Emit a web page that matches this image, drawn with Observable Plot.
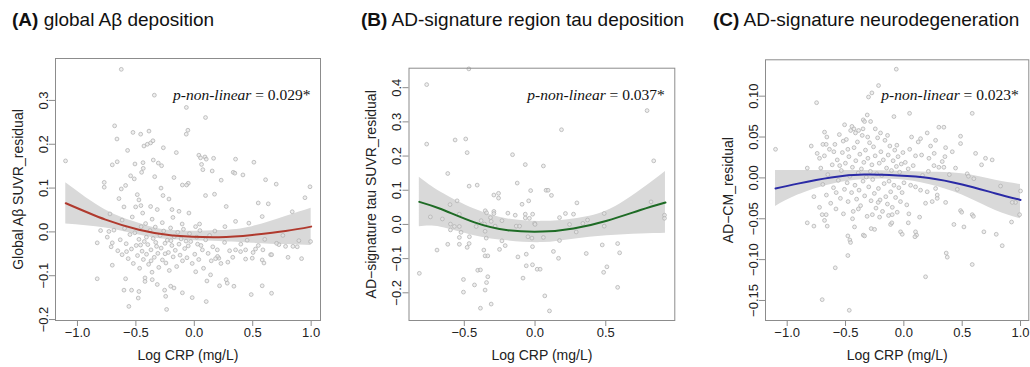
<!DOCTYPE html>
<html><head><meta charset="utf-8">
<script src="https://cdn.jsdelivr.net/npm/d3@7"></script>
<script src="https://cdn.jsdelivr.net/npm/@observablehq/plot@0.6"></script>
<style>
body{margin:0;background:#fff;}
#wrap{position:relative;width:1030px;height:367px;overflow:hidden;font-family:"Liberation Sans",Arial,sans-serif;background:#fff;}
.title{position:absolute;top:9px;font-size:19px;line-height:normal;color:#111;white-space:nowrap;}
.title b{font-weight:bold;}
.panel{position:absolute;top:40px;}
</style></head><body><div id="wrap">
<div class="title" style="left:12px"><b>(A)</b> global Aβ deposition</div>
<div class="title" style="left:361px"><b>(B)</b> AD-signature region tau deposition</div>
<div class="title" style="left:713px"><b>(C)</b> AD-signature neurodegeneration</div>
</div>
<script>
// ---------- Panel A data ----------
const pointsA = [
[-0.625,0.371],[-0.342,0.312],[-1.102,0.162],[-0.682,0.242],[-0.662,0.212],[-0.525,0.227],[-0.459,0.223],[-0.388,0.230],
[-0.431,0.196],[-0.402,0.200],[-0.374,0.203],[-0.354,0.208],[-0.571,0.186],[-0.265,0.192],[-0.660,0.160],[-0.702,0.153],
[-0.508,0.155],[-0.439,0.158],[-0.351,0.164],[-0.308,0.157],[-0.280,0.151],[-0.154,0.181],[-0.068,0.284],[-0.771,0.113],
[-0.771,0.102],[-0.588,0.106],[-0.625,0.098],[-0.545,0.128],[-0.514,0.121],[-0.451,0.136],[-0.437,0.145],[-0.339,0.126],
[-0.285,0.100],[-0.174,0.124],[-0.102,0.107],[-0.488,0.085],[-0.474,0.073],[-0.457,0.060],[-0.645,0.076],[-0.602,0.057],
[-0.502,0.057],[-0.374,0.058],[-0.317,0.051],[-0.268,0.083],[-0.217,0.075],[-0.191,0.051],[-0.131,0.047],[-0.802,0.003],
[-0.731,0.001],[-0.831,-0.025],[-0.702,-0.025],[-0.702,-0.076],[-0.831,-0.107],[-0.588,-0.107],[-0.602,-0.133],[-0.537,-0.133],
[-0.474,-0.136],[-0.422,-0.105],[-0.422,-0.113],[-0.360,-0.109],[-0.317,-0.120],[-0.254,-0.133],[-0.245,-0.147],[-0.560,-0.170],
[-0.480,-0.151],[-0.237,-0.177],[-0.202,-0.124],[-0.174,-0.128],[-0.102,-0.139],
[-0.745,-0.012],[-0.712,-0.034],[-0.688,0.004],[-0.655,-0.043],[-0.634,-0.018],[-0.618,-0.052],[-0.597,0.008],[-0.583,-0.027],
[-0.566,-0.061],[-0.551,-0.006],[-0.538,-0.039],[-0.522,-0.072],[-0.509,-0.002],[-0.497,-0.031],[-0.486,-0.054],[-0.474,-0.017],
[-0.468,-0.083],[-0.455,0.012],[-0.447,-0.044],[-0.436,-0.063],[-0.428,-0.022],[-0.417,0.019],[-0.409,-0.051],[-0.398,-0.029],
[-0.391,-0.074],[-0.379,0.003],[-0.371,-0.041],[-0.362,-0.092],[-0.352,-0.015],[-0.343,-0.058],[-0.334,0.011],[-0.323,-0.033],
[-0.312,-0.049],[-0.304,-0.081],[-0.293,-0.008],[-0.284,-0.037],[-0.273,-0.064],[-0.262,0.002],[-0.251,-0.026],[-0.243,-0.071],
[-0.231,-0.019],[-0.222,-0.047],[-0.214,-0.088],[-0.203,0.009],[-0.192,-0.031],[-0.181,-0.057],[-0.172,-0.011],[-0.163,-0.042],
[-0.151,-0.079],[-0.142,-0.001],[-0.131,-0.028],[-0.122,-0.053],[-0.113,-0.016],[-0.101,-0.066],[-0.093,0.006],[-0.082,-0.038],
[-0.071,-0.021],[-0.063,-0.059],[-0.052,-0.032],[-0.041,-0.004],[-0.722,0.041],[-0.618,0.027],[-0.531,0.034],[-0.442,0.043],
[-0.361,0.029],[-0.274,0.021],[-0.183,0.033],[-0.104,0.018],[-0.580,-0.045],[-0.410,-0.012],[-0.330,-0.024],[-0.250,-0.050],
[-0.460,-0.030],[-0.370,-0.066],[-0.200,-0.020],
[0.096,0.261],[-0.055,0.232],[-0.069,0.223],[0.039,0.175],[0.053,0.169],[0.091,0.171],[0.102,0.166],[0.165,0.168],
[0.062,0.154],[0.073,0.142],[0.153,0.139],[0.353,0.166],[0.510,0.159],[0.333,0.136],[0.347,0.134],[0.416,0.130],
[0.610,0.119],[0.701,0.109],[0.990,0.103],[0.947,0.078],[-0.052,0.111],[-0.066,0.107],[0.230,0.118],[0.096,0.083],
[0.173,0.086],[0.273,0.058],[0.547,0.066],[0.633,0.064],[0.838,0.046],[0.581,0.035],[-0.046,0.043],[0.045,0.018],
[0.011,0.012],[0.353,0.024],[0.467,0.020],[0.262,0.012],[0.995,-0.022],[0.895,-0.020],[0.781,-0.033],[0.844,-0.033],
[0.724,-0.029],[0.653,-0.052],[0.587,-0.041],[0.524,-0.039],[0.439,-0.041],[0.396,-0.045],[0.353,-0.041],[0.918,-0.061],
[0.287,-0.069],[0.210,-0.060],[0.199,-0.056],[0.182,-0.061],[0.581,-0.064],[0.596,-0.071],[0.439,-0.062],[0.496,-0.060],
[0.273,-0.109],[0.282,-0.117],[0.339,-0.124],[0.216,-0.123],[0.581,-0.123],[0.661,-0.140],[0.487,-0.143],[0.102,-0.159],
[-0.018,-0.150],
[-0.031,-0.022],[0.004,-0.051],[0.021,-0.012],[0.038,-0.063],[0.057,-0.031],[0.079,-0.083],[0.097,-0.018],[0.118,-0.049],
[0.139,-0.098],[0.158,-0.034],[0.176,0.002],[0.012,-0.091],[0.048,0.003],[-0.018,-0.072],[0.108,-0.112],[0.131,-0.008],
[0.197,-0.041],[0.228,-0.072],[0.259,-0.024],[0.302,-0.043],[0.329,-0.058],[0.398,-0.028],[0.452,-0.019],[0.503,-0.047],
[0.548,-0.031],[0.603,-0.017],[0.662,-0.052],[0.704,-0.026],[0.758,-0.008],[0.802,-0.058],[0.881,-0.034],[0.069,-0.041],
[0.145,-0.066],[0.028,-0.028]
];
const fitXA = [-1.1, -0.76, -0.474, -0.188, 0.21, 0.496, 0.781, 1.0];
const fitA  = [0.0654, 0.028, 0.005, -0.008, -0.012, -0.007, 0.002, 0.012];
const hiA   = [0.112, 0.050, 0.020, 0.003, 0.003, 0.012, 0.035, 0.054];
const loA   = [0.018, 0.009, -0.007, -0.018, -0.022, -0.026, -0.029, -0.031];

// ---------- Panel B data ----------
const pointsB = [
[-0.468,0.455],[-0.766,0.409],[-0.766,0.235],[-0.565,0.247],[-0.490,0.250],[-0.480,0.210],[-0.159,0.204],[-0.069,0.175],
[-0.617,0.149],[-0.466,0.112],[-0.409,0.115],[-0.126,0.121],[-0.031,0.099],[-0.291,0.086],[-0.258,0.091],[-0.258,0.077],
[-0.551,0.069],[-0.092,0.059],[-0.045,0.069],[-0.601,0.058],[-0.740,0.022],[-0.655,0.016],[-0.535,0.030],[-0.352,0.040],
[-0.343,0.034],[-0.291,0.038],[-0.291,0.032],[-0.315,0.020],[-0.310,0.009],[-0.282,-0.005],[-0.192,0.033],[-0.140,0.027],
[-0.069,0.030],[-0.069,0.019],[-0.017,0.030],[-0.003,0.003],[-0.598,0.001],[-0.598,-0.016],[-0.570,-0.006],[-0.535,-0.006],
[-0.416,-0.006],[-0.381,0.011],[-0.357,0.001],[-0.523,-0.023],[-0.535,-0.038],[-0.617,-0.058],[-0.535,-0.058],[-0.464,-0.036],
[-0.466,-0.056],[-0.480,-0.067],[-0.353,-0.020],[-0.345,-0.040],[-0.234,0.011],[-0.234,-0.048],[-0.211,-0.062],[-0.693,-0.075],
[-0.362,-0.075],[-0.353,-0.092],[-0.334,-0.092],[-0.251,-0.073],[-0.133,-0.005],[-0.109,-0.005],[-0.050,-0.036],[-0.022,-0.040],
[-0.121,-0.095],[-0.062,-0.087],[-0.062,-0.121],[-0.018,-0.065],[-0.018,-0.118],[0.015,-0.131],[-0.405,-0.134],[-0.386,-0.133],
[-0.334,-0.153],[-0.343,-0.170],[-0.428,-0.177],[-0.506,-0.161],[-0.353,-0.192],[-0.506,-0.198],[-0.310,-0.233],[-0.386,-0.245],
[-0.085,-0.157],[-0.818,-0.143],
[0.792,0.333],[0.187,0.277],[0.839,0.186],[0.059,0.171],[0.078,0.100],[0.092,0.100],[0.116,0.085],[0.296,0.063],
[0.820,0.066],[0.215,0.032],[0.272,0.030],[0.173,0.020],[0.489,0.032],[0.489,-0.005],[0.244,0.000],[0.291,-0.022],
[0.338,0.003],[0.371,0.013],[0.915,0.027],[0.915,0.018],[0.059,-0.038],[0.173,-0.047],[0.130,-0.079],[0.166,-0.099],
[0.362,-0.085],[0.475,-0.060],[0.584,-0.056],[0.598,-0.083],[0.485,-0.140],[0.508,-0.124],[0.584,-0.184],[0.069,-0.209],
[0.102,-0.253],[0.036,-0.131],[0.000,0.000],[-0.040,0.018]
];
const fitXB = [-0.818, -0.665, -0.428, -0.192, 0.054, 0.272, 0.508, 0.745, 0.922];
const fitB  = [0.066, 0.045, 0.006, -0.017, -0.021, -0.012, 0.011, 0.042, 0.064];
const hiB   = [0.138, 0.094, 0.045, 0.016, 0.009, 0.016, 0.040, 0.100, 0.155];
const loB   = [-0.007, -0.008, -0.033, -0.048, -0.053, -0.043, -0.033, -0.028, -0.026];

// ---------- Panel C data ----------
const pointsC = [
[-1.100,0.035],[-0.748,0.092],[-0.217,0.113],[-0.274,0.104],[-0.303,0.099],[-0.065,0.133],[-0.085,0.075],[-0.314,0.077],
[-0.348,0.071],[-0.337,0.069],[-0.285,0.069],[-0.508,0.065],[-0.445,0.063],[-0.428,0.060],[-0.388,0.058],[-0.680,0.056],
[-0.694,0.041],[-0.666,0.041],[-0.794,0.039],[-0.743,0.030],[-0.723,0.024],[-0.828,0.012],[-0.771,-0.023],[-0.828,-0.055],
[-0.771,-0.059],[-0.723,-0.036],[-0.666,-0.045],[-0.680,-0.052],[-0.657,-0.059],[-0.588,-0.110],[-0.700,-0.149],[-0.468,-0.162],
[-0.480,-0.095],[-0.480,-0.071],[-0.463,-0.076],[-0.457,-0.079],[-0.423,-0.060],[-0.348,-0.070],[-0.337,-0.071],[-0.280,-0.062],
[-0.251,-0.063],[-0.114,-0.057],[-0.103,-0.055],[-0.208,-0.048],[-0.131,-0.046],
[-0.712,0.012],[-0.695,-0.008],[-0.681,0.027],[-0.664,-0.021],[-0.652,0.004],[-0.638,0.035],[-0.627,-0.031],[-0.614,0.016],
[-0.603,-0.012],[-0.591,0.041],[-0.582,-0.038],[-0.571,0.022],[-0.562,-0.003],[-0.553,0.053],[-0.544,-0.025],[-0.536,0.009],
[-0.527,0.031],[-0.518,-0.044],[-0.509,-0.014],[-0.501,0.018],[-0.493,0.047],[-0.486,-0.006],[-0.478,-0.029],[-0.471,0.026],
[-0.463,0.002],[-0.456,0.058],[-0.448,-0.018],[-0.441,0.013],[-0.434,-0.041],[-0.427,0.037],[-0.419,-0.009],[-0.412,0.021],
[-0.405,-0.026],[-0.398,0.044],[-0.391,0.006],[-0.384,-0.015],[-0.377,0.029],[-0.371,-0.034],[-0.364,0.011],[-0.357,0.052],
[-0.350,-0.004],[-0.343,0.019],[-0.336,-0.022],[-0.329,0.034],[-0.322,0.001],[-0.315,-0.047],[-0.308,0.024],[-0.301,-0.011],
[-0.294,0.043],[-0.287,0.008],[-0.281,-0.028],[-0.274,0.016],[-0.267,-0.002],[-0.260,0.038],[-0.253,-0.019],[-0.246,0.027],
[-0.239,-0.037],[-0.232,0.005],[-0.225,0.049],[-0.218,-0.013],[-0.211,0.018],[-0.204,-0.027],[-0.197,0.032],[-0.190,0.003],
[-0.183,-0.041],[-0.176,0.022],[-0.169,-0.007],[-0.162,0.046],[-0.155,-0.023],[-0.148,0.012],[-0.141,-0.032],[-0.134,0.028],
[-0.127,-0.004],[-0.120,0.039],[-0.113,-0.017],[-0.106,0.009],[-0.099,-0.036],[-0.092,0.021],[-0.085,-0.009],[-0.078,0.034],
[-0.071,-0.024],[-0.064,0.014],[-0.057,-0.042],[-0.050,0.026],[-0.043,-0.012],[-0.036,0.007],[-0.029,-0.029],[-0.022,0.017],
[-0.015,-0.018],[-0.008,0.031],[0.001,-0.006],[0.012,0.019],[0.025,-0.033],[0.037,0.011],[-0.600,0.032],[-0.520,0.045],
[-0.440,-0.050],[-0.350,0.060],[-0.270,-0.045],[-0.200,0.055],[-0.660,0.050],[-0.580,-0.018],[-0.480,0.035],[-0.390,-0.038],
[-0.310,0.050],[-0.220,-0.030],[-0.140,0.052],[-0.060,0.040],[-0.700,-0.045],[-0.550,0.015],[-0.415,0.055],[-0.245,0.060],
[-0.100,-0.045],
[0.586,0.079],[0.049,0.079],[0.300,0.062],[0.343,0.062],[0.486,0.051],[0.486,0.042],[0.615,0.030],[0.700,0.024],
[0.757,0.022],[0.666,0.016],[0.066,0.050],[0.123,0.044],[0.143,0.048],[0.229,0.039],[0.272,0.046],[0.358,0.037],
[0.415,0.032],[0.100,0.027],[0.152,0.028],[0.215,0.024],[0.352,0.026],[0.329,0.020],[0.258,0.015],[0.300,0.013],
[0.343,0.013],[0.443,0.012],[0.543,0.005],[0.553,0.002],[0.600,-0.001],[0.829,-0.010],[1.000,-0.016],[0.957,-0.030],
[0.929,-0.030],[0.992,-0.045],[0.923,-0.054],[0.843,-0.083],[0.686,-0.066],[0.792,-0.069],[0.586,-0.045],[0.596,-0.047],
[0.486,-0.040],[0.496,-0.042],[0.429,-0.057],[0.515,-0.060],[0.586,-0.106],[0.363,-0.092],[0.372,-0.097],[0.186,-0.121],
[0.100,-0.066],[0.109,-0.070],[0.095,-0.072],[-0.028,-0.066],[-0.014,-0.069],[0.038,-0.055],[0.043,-0.044],[0.135,-0.048],
[0.186,-0.031],[0.243,-0.029],[0.286,-0.025],[0.358,-0.030],[0.058,-0.009],[0.100,-0.011],[0.143,-0.015],[0.200,-0.017],
[0.272,-0.013],[0.286,-0.021],[0.458,-0.014],[0.210,0.008],[0.160,0.003],[0.080,0.015],[0.390,0.004],[0.050,0.035],
[0.200,0.055],[0.260,0.030]
];
const fitXC = [-1.1, -0.908, -0.623, -0.337, -0.051, 0.215, 0.5, 0.786, 1.0];
const fitC  = [-0.013, -0.007, 0.0005, 0.004, 0.003, 0.0, -0.008, -0.019, -0.027];
const hiC   = [0.009, 0.009, 0.009, 0.009, 0.008, 0.007, 0.005, -0.003, -0.008];
const loC   = [-0.035, -0.021, -0.008, -0.002, -0.002, -0.008, -0.021, -0.040, -0.050];

// ---------- Labels & ticks ----------
const xLabel = "Log CRP (mg/L)";
const yLabels = ["Global Aβ SUVR_residual", "AD−signature tau SUVR_residual", "AD−CM_residual"];
const notes = ["p-non-linear = 0.029*", "p-non-linear = 0.037*", "p-non-linear = 0.023*"];
const xTicksA = [-1.0, -0.5, 0.0, 0.5, 1.0];
const xTicksB = [-0.5, 0.0, 0.5];
const xTicksC = [-1.0, -0.5, 0.0, 0.5, 1.0];
const yTicksA = [-0.2, -0.1, 0.0, 0.1, 0.2, 0.3];
const yTicksB = [-0.2, -0.1, 0.0, 0.1, 0.2, 0.3, 0.4];
const yTicksC = [-0.15, -0.10, -0.05, 0.00, 0.05, 0.10];

const FONT = '"Liberation Sans", Arial, sans-serif';

function panel(cfg) {
  const fit = cfg.fx.map((x, i) => ({x, y: cfg.fy[i], lo: cfg.lo[i], hi: cfg.hi[i]}));
  const svg = Plot.plot({
    width: cfg.width, height: 327,
    marginLeft: cfg.ml, marginRight: cfg.mr, marginTop: cfg.mt, marginBottom: 47,
    x: {domain: cfg.xDomain},
    y: {domain: cfg.yDomain},
    style: {fontFamily: FONT, fontSize: "13px", color: "#222", background: "transparent", overflow: "visible"},
    marks: [
      Plot.areaY(fit, {x: "x", y1: "lo", y2: "hi", fill: "#d9d9d9", curve: "natural"}),
      Plot.dot(cfg.pts, {x: d => d[0], y: d => d[1], r: 1.9, stroke: "#b4b4b4", strokeWidth: 0.8, fill: "#e4e4e4", fillOpacity: 0.6}),
      Plot.line(fit, {x: "x", y: "y", stroke: cfg.color, strokeWidth: 2, curve: "natural"}),
      Plot.frame({stroke: "#8c8c8c", strokeWidth: 1}),
      Plot.axisX({ticks: cfg.xTicks, tickFormat: d3.format(".1f"), tickSize: 6, tickPadding: 1, label: null, stroke: "#8c8c8c", fill: "#222"}),
      Plot.axisY({ticks: cfg.yTicks, tickFormat: d3.format(cfg.yFmt), tickSize: 6, tickPadding: 2, tickRotate: -90, label: null, stroke: "#8c8c8c", fill: "#222"}),
      Plot.text([cfg.yLabel], {text: d => d, frameAnchor: "left", dx: -37, rotate: -90, textAnchor: "middle", lineAnchor: "middle", fontSize: 14, fill: "#222"}),
      Plot.text([xLabel], {text: d => d, frameAnchor: "bottom", dy: 35, lineAnchor: "middle", fontSize: 14, fill: "#222"}),
      Plot.text([cfg.note], {text: d => d, frameAnchor: "top-right", dx: -10, dy: cfg.noteDy, textAnchor: "end", lineAnchor: "middle",
        fontFamily: '"Liberation Serif", "Times New Roman", serif', fontSize: 15.5, fill: "#111"})
    ]
  });
  d3.select(svg).selectAll("text").filter(function () { return this.textContent.startsWith("p-non-linear"); })
    .each(function () {
      const t = this.textContent, head = "p-non-linear", rest = t.slice(head.length);
      this.textContent = "";
      d3.select(this).append("tspan").attr("font-style", "italic").text(head);
      d3.select(this).append("tspan").text(rest);
    });
  const div = document.createElement("div");
  div.className = "panel";
  div.style.left = cfg.left + "px";
  div.appendChild(svg);
  document.getElementById("wrap").appendChild(div);
}

panel({pts: pointsA, fx: fitXA, fy: fitA, lo: loA, hi: hiA, color: "#b03a2e",
  xDomain: [-1.188, 1.08], yDomain: [-0.2022, 0.3957], xTicks: xTicksA, yTicks: yTicksA, yFmt: ".1f",
  yLabel: yLabels[0], note: notes[0], noteDy: 37, width: 340, ml: 55, mr: 20, mt: 18, left: 0});
panel({pts: pointsB, fx: fitXB, fy: fitB, lo: loB, hi: hiB, color: "#1e6b25",
  xDomain: [-0.891, 0.988], yDomain: [-0.281, 0.457], xTicks: xTicksB, yTicks: yTicksB, yFmt: ".1f",
  yLabel: yLabels[1], note: notes[1], noteDy: 27, width: 345, ml: 68.5, mr: 10.7, mt: 27.7, left: 340});
panel({pts: pointsC, fx: fitXC, fy: fitC, lo: loC, hi: hiC, color: "#2a2aa6",
  xDomain: [-1.186, 1.071], yDomain: [-0.1745, 0.1445], xTicks: xTicksC, yTicks: yTicksC, yFmt: ".2f",
  yLabel: yLabels[2], note: notes[2], noteDy: 35, width: 345, ml: 80, mr: 1.7, mt: 19.3, left: 685});
</script>
</body></html>
